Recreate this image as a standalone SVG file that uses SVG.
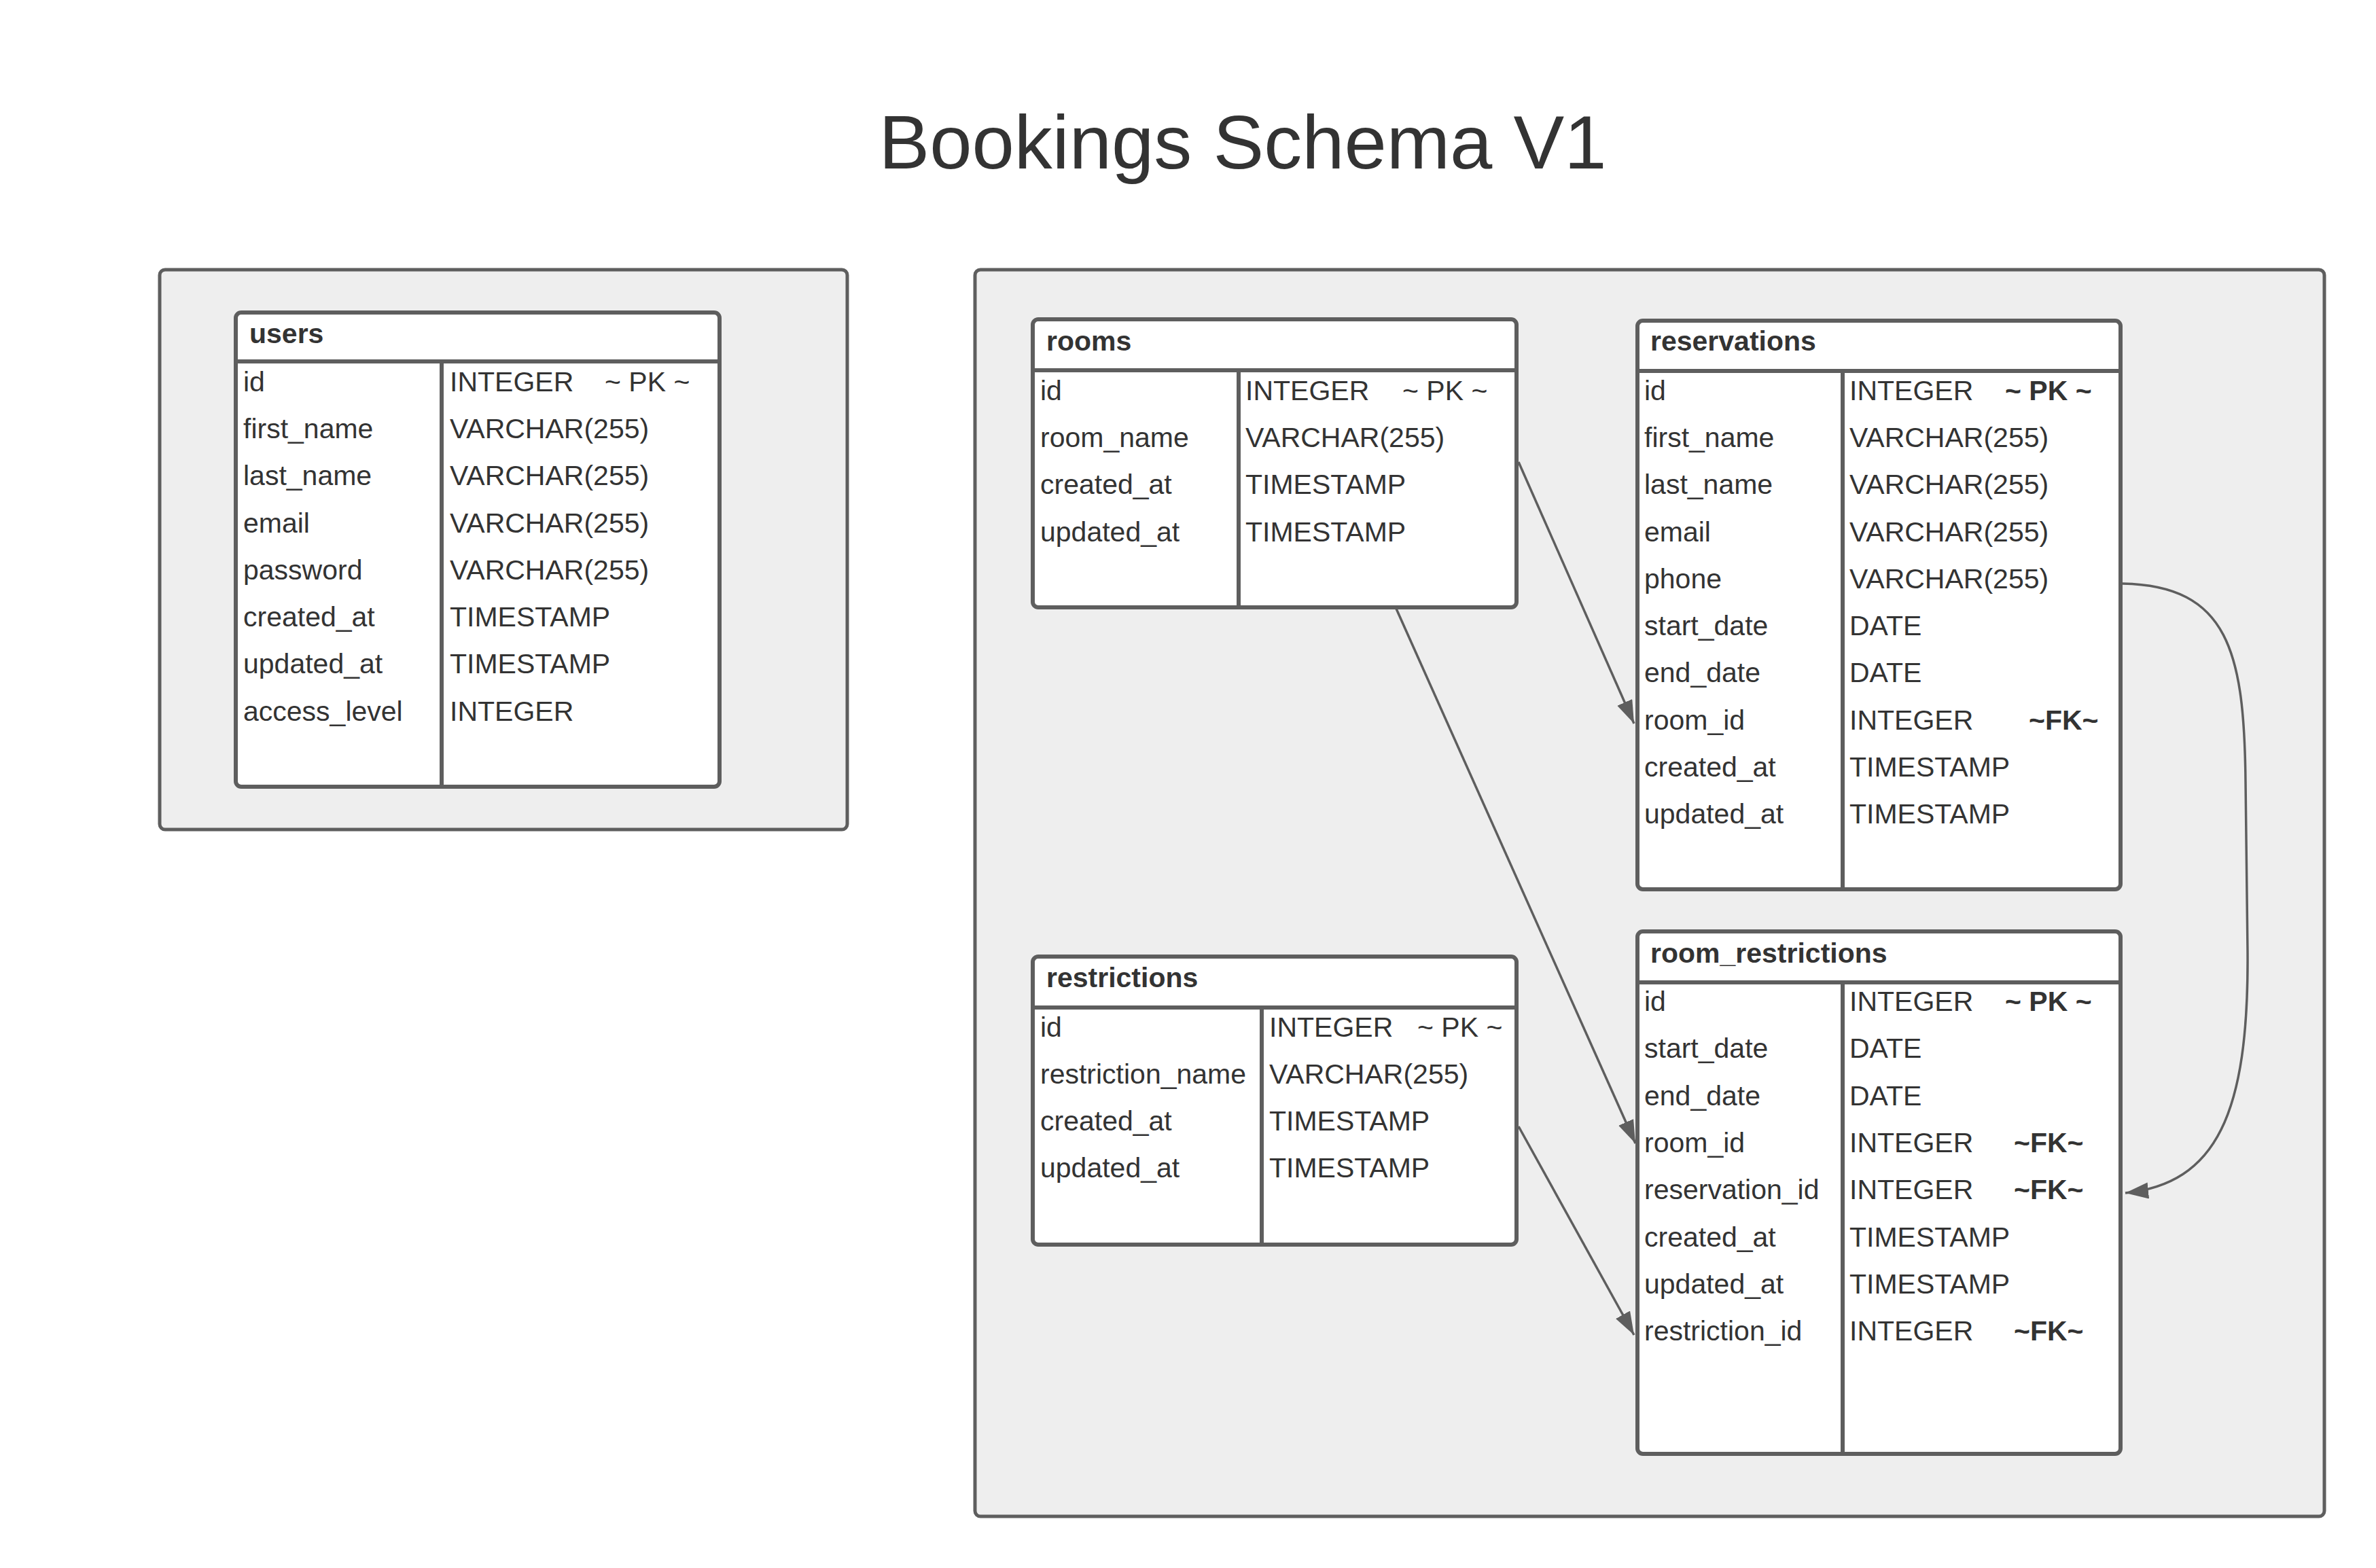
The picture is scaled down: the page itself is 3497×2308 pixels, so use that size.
<svg xmlns="http://www.w3.org/2000/svg" width="3497" height="2308" viewBox="0 0 3497 2308">
<style>
.bg{fill:#ffffff}
.container{fill:#eeeeee;stroke:#5e5e5e;stroke-width:5}
.tbl{fill:#ffffff;stroke:#5e5e5e;stroke-width:6}
.ln{stroke:#5e5e5e;stroke-width:6;fill:none}
.conn{stroke:#5e5e5e;stroke-width:3.5;fill:none}
text{font-family:"Liberation Sans",Arial,sans-serif;fill:#333333}
.title{font-size:112px}
.hd{font-size:41px;font-weight:bold}
.row{font-size:41px}
.b{font-weight:bold}
</style>
<defs>
<marker id="arr" markerUnits="userSpaceOnUse" markerWidth="36" markerHeight="26" refX="34" refY="12" orient="auto" viewBox="0 0 36 26">
<path d="M0,0 L34,12 L0,24 z" fill="#5e5e5e"/>
</marker>
</defs>
<rect class="bg" x="0" y="0" width="3497" height="2308"/>
<text class="title" x="1829" y="248" text-anchor="middle">Bookings Schema V1</text>

<g id="container-users"><rect class="container" x="235" y="397" width="1012" height="824" rx="8"/></g>
<g id="container-bookings"><rect class="container" x="1435" y="397" width="1986" height="1835" rx="8"/></g>

<g id="connectors">
<path class="conn" d="M2235,680 L2405,1065" marker-end="url(#arr)"/>
<path class="conn" d="M2055,896 L2407,1683" marker-end="url(#arr)"/>
<path class="conn" d="M2235,1658 L2405,1965" marker-end="url(#arr)"/>
<path class="conn" d="M3124,859 C3280,862 3303,960 3305,1150 L3308,1400 C3310,1640 3262,1742 3128,1756" marker-end="url(#arr)"/>
</g>

<g id="users">
<rect class="tbl" x="347" y="460" width="712" height="698" rx="8"/>
<line class="ln" x1="347" y1="532" x2="1059" y2="532"/>
<line class="ln" x1="650" y1="532" x2="650" y2="1158"/>
<text class="hd" x="367" y="505">users</text>
<g class="row">
<text x="358" y="576">id</text><text x="662" y="576">INTEGER</text><text x="890" y="576">~ PK ~</text>
<text x="358" y="645">first_name</text><text x="662" y="645">VARCHAR(255)</text>
<text x="358" y="714">last_name</text><text x="662" y="714">VARCHAR(255)</text>
<text x="358" y="784">email</text><text x="662" y="784">VARCHAR(255)</text>
<text x="358" y="853">password</text><text x="662" y="853">VARCHAR(255)</text>
<text x="358" y="922">created_at</text><text x="662" y="922">TIMESTAMP</text>
<text x="358" y="991">updated_at</text><text x="662" y="991">TIMESTAMP</text>
<text x="358" y="1061">access_level</text><text x="662" y="1061">INTEGER</text>
</g>
</g>

<g id="rooms">
<rect class="tbl" x="1520" y="470" width="712" height="424" rx="8"/>
<line class="ln" x1="1520" y1="545" x2="2232" y2="545"/>
<line class="ln" x1="1823" y1="545" x2="1823" y2="894"/>
<text class="hd" x="1540" y="516">rooms</text>
<g class="row">
<text x="1531" y="589">id</text><text x="1833" y="589">INTEGER</text><text x="2064" y="589">~ PK ~</text>
<text x="1531" y="658">room_name</text><text x="1833" y="658">VARCHAR(255)</text>
<text x="1531" y="727">created_at</text><text x="1833" y="727">TIMESTAMP</text>
<text x="1531" y="797">updated_at</text><text x="1833" y="797">TIMESTAMP</text>
</g>
</g>

<g id="reservations">
<rect class="tbl" x="2410" y="472" width="711" height="837" rx="8"/>
<line class="ln" x1="2410" y1="546" x2="3121" y2="546"/>
<line class="ln" x1="2712" y1="546" x2="2712" y2="1309"/>
<text class="hd" x="2429" y="516">reservations</text>
<g class="row">
<text x="2420" y="589">id</text><text x="2722" y="589">INTEGER</text><text class="b" x="2951" y="589">~ PK ~</text>
<text x="2420" y="658">first_name</text><text x="2722" y="658">VARCHAR(255)</text>
<text x="2420" y="727">last_name</text><text x="2722" y="727">VARCHAR(255)</text>
<text x="2420" y="797">email</text><text x="2722" y="797">VARCHAR(255)</text>
<text x="2420" y="866">phone</text><text x="2722" y="866">VARCHAR(255)</text>
<text x="2420" y="935">start_date</text><text x="2722" y="935">DATE</text>
<text x="2420" y="1004">end_date</text><text x="2722" y="1004">DATE</text>
<text x="2420" y="1074">room_id</text><text x="2722" y="1074">INTEGER</text><text class="b" x="2986" y="1074">~FK~</text>
<text x="2420" y="1143">created_at</text><text x="2722" y="1143">TIMESTAMP</text>
<text x="2420" y="1212">updated_at</text><text x="2722" y="1212">TIMESTAMP</text>
</g>
</g>

<g id="restrictions">
<rect class="tbl" x="1520" y="1408" width="712" height="424" rx="8"/>
<line class="ln" x1="1520" y1="1483" x2="2232" y2="1483"/>
<line class="ln" x1="1857" y1="1483" x2="1857" y2="1832"/>
<text class="hd" x="1540" y="1453">restrictions</text>
<g class="row">
<text x="1531" y="1526">id</text><text x="1868" y="1526">INTEGER</text><text x="2086" y="1526">~ PK ~</text>
<text x="1531" y="1595">restriction_name</text><text x="1868" y="1595">VARCHAR(255)</text>
<text x="1531" y="1664">created_at</text><text x="1868" y="1664">TIMESTAMP</text>
<text x="1531" y="1733">updated_at</text><text x="1868" y="1733">TIMESTAMP</text>
</g>
</g>

<g id="room_restrictions">
<rect class="tbl" x="2410" y="1371" width="711" height="769" rx="8"/>
<line class="ln" x1="2410" y1="1446" x2="3121" y2="1446"/>
<line class="ln" x1="2712" y1="1446" x2="2712" y2="2140"/>
<text class="hd" x="2429" y="1417">room_restrictions</text>
<g class="row">
<text x="2420" y="1488">id</text><text x="2722" y="1488">INTEGER</text><text class="b" x="2951" y="1488">~ PK ~</text>
<text x="2420" y="1557">start_date</text><text x="2722" y="1557">DATE</text>
<text x="2420" y="1627">end_date</text><text x="2722" y="1627">DATE</text>
<text x="2420" y="1696">room_id</text><text x="2722" y="1696">INTEGER</text><text class="b" x="2964" y="1696">~FK~</text>
<text x="2420" y="1765">reservation_id</text><text x="2722" y="1765">INTEGER</text><text class="b" x="2964" y="1765">~FK~</text>
<text x="2420" y="1835">created_at</text><text x="2722" y="1835">TIMESTAMP</text>
<text x="2420" y="1904">updated_at</text><text x="2722" y="1904">TIMESTAMP</text>
<text x="2420" y="1973">restriction_id</text><text x="2722" y="1973">INTEGER</text><text class="b" x="2964" y="1973">~FK~</text>
</g>
</g>
</svg>
